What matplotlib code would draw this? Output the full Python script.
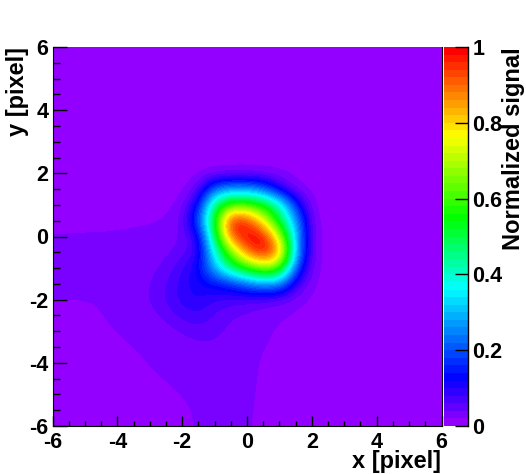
import numpy as np
import matplotlib
matplotlib.use("Agg")
import matplotlib.pyplot as plt
from matplotlib.colors import LinearSegmentedColormap
from matplotlib.ticker import MultipleLocator

plt.rcParams['font.family'] = ['Liberation Sans', 'DejaVu Sans']
plt.rcParams['font.weight'] = 'bold'
plt.rcParams['axes.unicode_minus'] = False

# signal every 0.5 pixel, rows from y=6 down to y=-6, columns x=-6 to x=6
signal = np.array([
    [.005, .005, .005, .005, .005, .005, .005, .005, .005, .005, .005, .005, .005, .005, .005, .005, .005, .005, .005, .005, .005, .005, .005, .005, .005],
    [.005, .005, .005, .005, .005, .005, .005, .005, .005, .005, .005, .005, .005, .005, .005, .005, .005, .005, .005, .005, .005, .005, .005, .005, .005],
    [.005, .005, .005, .005, .005, .005, .005, .005, .005, .005, .005, .005, .005, .005, .005, .005, .005, .005, .005, .005, .005, .005, .005, .005, .005],
    [.005, .005, .005, .005, .005, .005, .005, .005, .005, .005, .005, .005, .005, .005, .005, .005, .005, .005, .005, .005, .005, .005, .005, .005, .005],
    [.005, .005, .005, .005, .005, .005, .005, .005, .005, .005, .005, .005, .005, .005, .005, .005, .005, .005, .005, .005, .005, .005, .005, .005, .005],
    [.005, .005, .005, .005, .005, .005, .005, .005, .005, .005, .005, .006, .006, .006, .005, .005, .005, .005, .005, .005, .005, .005, .005, .005, .005],
    [.005, .005, .005, .005, .005, .005, .005, .005, .005, .006, .007, .007, .007, .007, .007, .006, .005, .005, .005, .005, .005, .005, .005, .005, .005],
    [.005, .005, .005, .005, .005, .005, .005, .006, .006, .008, .010, .012, .012, .011, .010, .008, .006, .005, .005, .005, .005, .005, .005, .005, .005],
    [.006, .006, .006, .006, .006, .006, .006, .006, .008, .015, .020, .022, .022, .021, .019, .014, .008, .007, .006, .006, .006, .006, .005, .005, .005],
    [.007, .007, .007, .007, .007, .007, .007, .009, .012, .050, .230, .270, .270, .220, .090, .025, .012, .008, .006, .006, .006, .006, .005, .005, .005],
    [.010, .010, .010, .010, .010, .011, .012, .014, .028, .130, .480, .620, .620, .550, .420, .150, .015, .010, .007, .006, .006, .006, .005, .005, .005],
    [.014, .014, .015, .015, .016, .018, .019, .021, .040, .200, .550, 1.00, .950, .760, .500, .280, .020, .012, .008, .007, .006, .006, .006, .005, .005],
    [.021, .022, .022, .022, .023, .023, .024, .028, .040, .090, .500, .920, 1.00, 1.00, .720, .300, .026, .012, .008, .007, .006, .006, .006, .005, .005],
    [.026, .026, .026, .026, .027, .028, .030, .035, .050, .080, .380, .650, .900, 1.00, .880, .300, .026, .012, .008, .007, .006, .006, .006, .005, .005],
    [.026, .026, .026, .027, .028, .030, .034, .045, .080, .120, .300, .470, .580, .680, .620, .200, .024, .012, .008, .007, .006, .006, .006, .005, .005],
    [.025, .025, .025, .026, .027, .030, .038, .060, .090, .120, .130, .160, .220, .270, .250, .080, .018, .011, .008, .007, .006, .006, .006, .005, .005],
    [.020, .020, .020, .021, .024, .030, .040, .065, .090, .100, .080, .070, .060, .050, .040, .025, .016, .010, .008, .007, .006, .006, .005, .005, .005],
    [.014, .015, .017, .020, .024, .027, .032, .045, .070, .080, .055, .040, .035, .028, .022, .017, .012, .009, .007, .006, .006, .006, .005, .005, .005],
    [.010, .011, .013, .016, .021, .024, .027, .030, .040, .050, .045, .035, .030, .024, .017, .013, .010, .008, .007, .006, .006, .005, .005, .005, .005],
    [.009, .009, .011, .013, .017, .020, .024, .028, .030, .035, .036, .030, .027, .020, .016, .012, .010, .008, .007, .006, .006, .005, .005, .005, .005],
    [.008, .008, .009, .010, .012, .017, .021, .024, .026, .027, .029, .026, .024, .018, .015, .012, .010, .008, .007, .006, .006, .005, .005, .005, .005],
    [.007, .007, .008, .009, .010, .012, .018, .021, .024, .024, .025, .024, .023, .018, .014, .011, .009, .008, .007, .006, .006, .005, .005, .005, .005],
    [.007, .007, .007, .008, .009, .010, .012, .017, .021, .023, .024, .024, .022, .018, .014, .011, .009, .008, .007, .006, .006, .005, .005, .005, .005],
    [.006, .006, .007, .007, .008, .009, .010, .012, .018, .022, .025, .024, .022, .017, .013, .010, .009, .008, .007, .006, .006, .005, .005, .005, .005],
    [.006, .006, .006, .007, .008, .009, .010, .012, .016, .022, .025, .024, .021, .017, .013, .010, .009, .008, .007, .006, .006, .005, .005, .005, .005],
])

cbar_ticks = [0, 0.2, 0.4, 0.6, 0.8, 1]
cbar_labels = ['0', '0.2', '0.4', '0.6', '0.8', '1']
axis_ticks = [-6, -4, -2, 0, 2, 4, 6]

palette = LinearSegmentedColormap.from_list('root_rainbow', [
    (0.0, '#9400ff'), (0.12, '#0000ff'), (0.36, '#00ffff'), (0.55, '#00ff00'),
    (0.77, '#ffff00'), (1.0, '#ff0000')], N=50)

fig = plt.figure(figsize=(5.26, 4.74), dpi=100)
W, H = 526, 474
ax = fig.add_axes([52.5 / W, 1 - 426 / H, 389 / W, 379 / H])
cax = fig.add_axes([444 / W, 1 - 426 / H, 24 / W, 379 / H])

im = ax.imshow(signal, cmap=palette, vmin=0, vmax=1, interpolation='bicubic',
               interpolation_stage='data', extent=[-6.25, 6.25, -6.25, 6.25], aspect='auto')
ax.set_xlim(-6, 6)
ax.set_ylim(-6, 6)
ax.set_xticks(axis_ticks)
ax.set_yticks(axis_ticks)
ax.xaxis.set_minor_locator(MultipleLocator(0.5))
ax.yaxis.set_minor_locator(MultipleLocator(0.5))
ax.tick_params(axis='x', which='major', direction='in', length=7.2, width=1, labelsize=15.5, pad=4)
ax.tick_params(axis='x', which='minor', direction='in', length=3.6, width=1)
ax.tick_params(axis='y', which='major', direction='in', length=10, width=1, labelsize=15.5, pad=3)
ax.tick_params(axis='y', which='minor', direction='in', length=5, width=1)
ax.spines['top'].set_visible(False)
ax.set_xlabel('x [pixel]', fontsize=17, fontweight='bold', loc='right', labelpad=-2)
ax.set_ylabel('y [pixel]', fontsize=17, fontweight='bold', loc='top', labelpad=0)

cb = fig.colorbar(im, cax=cax, ticks=cbar_ticks)
cb.ax.set_yticklabels(cbar_labels)
cb.outline.set_visible(False)
cax.spines['right'].set_visible(True)
cax.spines['right'].set_linewidth(1)
cb.ax.tick_params(direction='in', length=9.5, width=1, labelsize=15.5, pad=3)
cb.set_label('Normalized signal', fontsize=17, fontweight='bold', loc='top', labelpad=0)

fig.savefig('out.png', dpi=100)
